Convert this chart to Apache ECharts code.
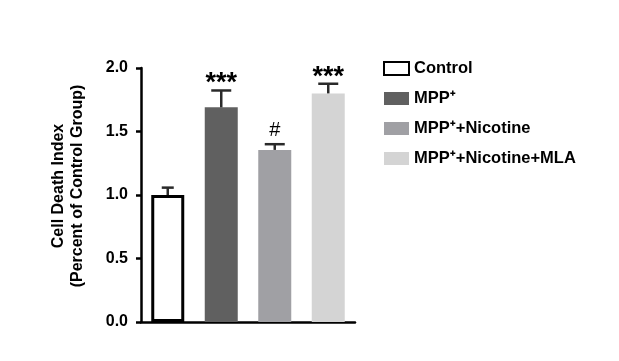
<!DOCTYPE html>
<html><head><meta charset="utf-8">
<script src="https://cdn.jsdelivr.net/npm/echarts@6/dist/echarts.min.js"></script>
<style>html,body{margin:0;padding:0;background:#fff}#c{width:619px;height:361px}</style>
</head><body><div id="c"></div>
<script>
const categories = ['Control', 'MPP⁺', 'MPP⁺+Nicotine', 'MPP⁺+Nicotine+MLA'];
const means = [1.00, 1.69, 1.355, 1.80];
const errTops = [1.058, 1.823, 1.40, 1.876];
const sigLabels = ['', '***', '#', '***'];
const yTicks = [0, 0.5, 1.0, 1.5, 2.0];
const colors = ['#ffffff', '#606060', '#a0a0a4', '#d4d4d4'];

const FONT = 'Liberation Sans, Arial, sans-serif';
const chart = echarts.init(document.getElementById('c'), null, {renderer: 'canvas'});

const barSeries = categories.map((name, i) => ({
  name: name,
  type: 'bar',
  barWidth: 33,
  barGap: '-100%',
  data: categories.map((c, j) => j === i ? means[j] : '-'),
  itemStyle: i === 0 ? {color: colors[i], borderColor: '#000', borderWidth: 3} : {color: colors[i]},
  emphasis: {disabled: true},
  z: 2
}));

const errSeries = {
  type: 'custom',
  name: 'err',
  data: means.map((m, i) => [i, m, errTops[i], sigLabels[i]]),
  encode: {x: 0, y: [1, 2]},
  z: 3,
  renderItem: function (params, api) {
    const i = api.value(0);
    const base = api.coord([i, api.value(1)]);
    const top = api.coord([i, api.value(2)]);
    const half = i === 0 ? 6 : 10;
    const lbl = sigLabels[i];
    const children = [
      {type: 'line', shape: {x1: base[0], y1: base[1], x2: top[0], y2: top[1]}, style: {stroke: '#2a2a2a', lineWidth: 2.5}},
      {type: 'line', shape: {x1: top[0] - half, y1: top[1], x2: top[0] + half, y2: top[1]}, style: {stroke: '#2a2a2a', lineWidth: 2.5}}
    ];
    if (lbl) {
      const isHash = lbl === '#';
      children.push({type: 'text', style: {
        text: lbl, x: top[0], y: top[1] + (isHash ? -4 : 7),
        align: 'center', verticalAlign: 'bottom',
        font: (isHash ? 'normal 20px ' : 'bold 27px ') + FONT, fill: '#000'
      }});
    }
    return {type: 'group', children: children};
  }
};

chart.setOption({
  animation: false,
  backgroundColor: '#fff',
  grid: {left: 141, right: 264, top: 68, bottom: 39, containLabel: false},
  legend: {
    orient: 'vertical', left: 383, top: 60, padding: 0,
    icon: 'rect',
    itemWidth: 25, itemHeight: 13, itemGap: 13,
    data: categories,
    textStyle: {fontFamily: FONT, fontWeight: 'bold', fontSize: 16.5, color: '#000', lineHeight: 16},
    selectedMode: false
  },
  xAxis: {
    type: 'category', data: categories,
    axisLine: {lineStyle: {color: '#000', width: 2.5}},
    axisTick: {show: false}, axisLabel: {show: false}, splitLine: {show: false}
  },
  yAxis: {
    type: 'value', min: yTicks[0], max: yTicks[yTicks.length - 1], interval: 0.5,
    name: 'Cell Death Index\n(Percent of Control Group)',
    nameLocation: 'middle', nameGap: 54, nameRotate: 90,
    nameTextStyle: {fontFamily: FONT, fontWeight: 'bold', fontSize: 16, color: '#000', lineHeight: 19, padding: [0, 0, 0, 18]},
    axisLine: {show: true, lineStyle: {color: '#000', width: 2.5}},
    axisTick: {show: true, length: 5, lineStyle: {color: '#000', width: 2.5}},
    axisLabel: {fontFamily: FONT, fontWeight: 'bold', fontSize: 16, color: '#000', margin: 13,
      formatter: v => v.toFixed(1)},
    splitLine: {show: false}
  },
  series: barSeries.concat([errSeries])
});
</script>
</body></html>
